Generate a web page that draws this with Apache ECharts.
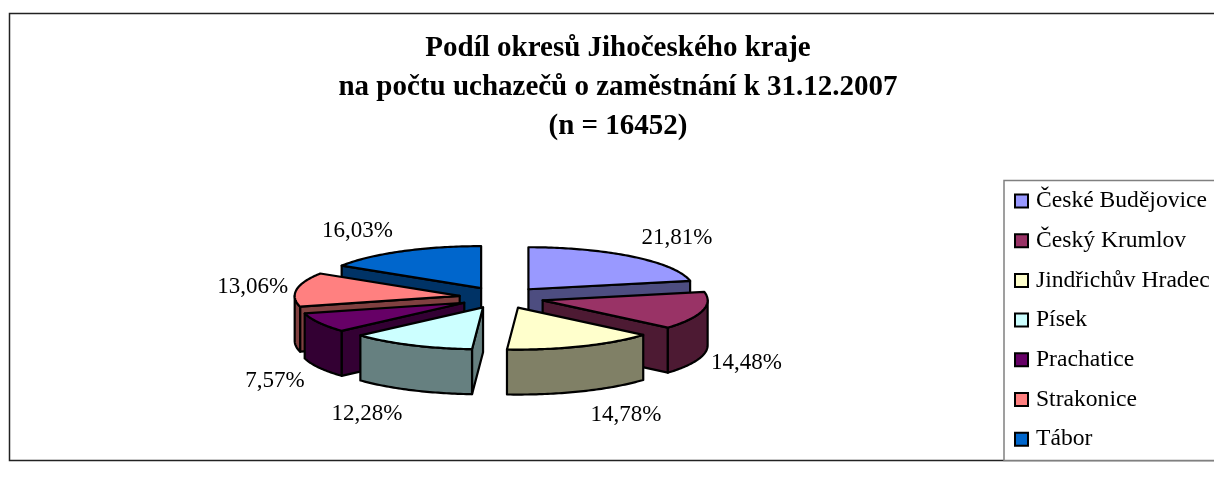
<!DOCTYPE html>
<html>
<head>
<meta charset="utf-8">
<style>html,body{margin:0;padding:0;background:#fff;overflow:hidden}#c{width:1214px;height:487px}</style>
<script src="https://cdn.jsdelivr.net/npm/echarts@6/dist/echarts.min.js"></script>
</head>
<body>
<div id="c"></div>
<script>
const districts = ['České Budějovice','Český Krumlov','Jindřichův Hradec','Písek','Prachatice','Strakonice','Tábor'];
const shares = [21.81,14.48,14.78,12.28,7.57,13.06,16.03];
const colors = ['#9999FF','#993366','#FFFFCC','#CCFFFF','#660066','#FF8080','#0066CC'];
const titleLines = ['Podíl okresů Jihočeského kraje','na počtu uchazečů o zaměstnání k 31.12.2007','(n = 16452)'];

const FONT = '"Liberation Serif","Times New Roman",serif';
const CX = 501.6, CY = 297.6, RX = 165, RY = 42, DEPTH = 45, EX = 42.4, EY = 10.8;
const total = shares.reduce((a,b)=>a+b,0);
const rad = d => d*Math.PI/180;
function darker(hex){
  const n = parseInt(hex.slice(1),16);
  const f = v => Math.round(v/2).toString(16).padStart(2,'0');
  return '#'+f(n>>16&255)+f(n>>8&255)+f(n&255);
}
const line = {stroke:'#000', lineWidth:2.2, lineJoin:'round'};
function renderSlice(idx, params, api){
  const i = params.seriesIndex;
  const val = api.value(0);
  let acc = 0; for(let k=0;k<i;k++) acc += shares[k];
  const a0 = acc/total*360, a1 = (acc+val)/total*360, mid = (a0+a1)/2;
  const ax = CX + EX*Math.sin(rad(mid)), ay = CY - EY*Math.cos(rad(mid));
  const pt = t => [ax+RX*Math.sin(rad(t)), ay-RY*Math.cos(rad(t))];
  const down = p => [p[0], p[1]+DEPTH];
  const base = Math.round(200 - 100*Math.cos(rad(mid)));
  const wall = darker(colors[i]);
  const children = [];
  const poly = (points, fill, z) => children.push({type:'polygon', z2:base*10+z, shape:{points}, style:Object.assign({fill}, line), silent:true});
  if(Math.sin(rad(a1))>0){ const p=pt(a1); poly([[ax,ay],p,down(p),[ax,ay+DEPTH]], wall, 0); }
  if(Math.sin(rad(a0))<0){ const p=pt(a0); poly([[ax,ay],p,down(p),[ax,ay+DEPTH]], wall, 0); }
  const w0 = Math.max(a0,90), w1 = Math.min(a1,270);
  if(w1>w0){
    const top=[]; for(let t=w0;t<w1;t+=1) top.push(pt(t)); top.push(pt(w1));
    poly(top.concat(top.slice().reverse().map(down)), wall, 1);
  }
  const face=[[ax,ay]]; for(let t=a0;t<a1;t+=1) face.push(pt(t)); face.push(pt(a1));
  poly(face, colors[i], 2);
  const o = pt(mid), s = Math.sin(rad(mid)), c = Math.cos(rad(mid));
  children.push({type:'text', z2:99999, silent:true, style:{
    text: val.toFixed(2).replace('.',',')+'%',
    x: o[0]+(s>0?44:-44), y: o[1]-25*c+(c<0?DEPTH:0)+1,
    fill:'#000', font:'23px '+FONT, align:'center', verticalAlign:'middle'}});
  return {type:'group', children};
}
const chart = echarts.init(document.getElementById('c'), null, {renderer:'canvas'});
chart.setOption({
  animation:false,
  backgroundColor:'#fff',
  title:{text:titleLines.join('\n'), left:613, top:24, textAlign:'center',
    textStyle:{fontFamily:FONT, fontWeight:'bold', fontSize:29, lineHeight:39, color:'#000'}},
  legend:{orient:'vertical', left:1004, top:180.5, icon:'rect', itemWidth:13, itemHeight:13, itemGap:15.7,
    padding:[8.5,12,9.3,10], borderColor:'#808080', borderWidth:1.5, backgroundColor:'#fff',
    data:districts, selectedMode:false,
    textStyle:{fontFamily:FONT, fontSize:23.6, color:'#000', padding:[0,0,0,3]}},
  graphic:[{type:'rect', silent:true, z:-1, shape:{x:9.5,y:13.5,width:1230,height:447}, style:{fill:'none',stroke:'#222',lineWidth:1.5}}],
  series:districts.map((name,i)=>({
    type:'custom', name, coordinateSystem:'none', silent:true,
    itemStyle:{color:colors[i], borderColor:'#000', borderWidth:1.5},
    data:[[shares[i]]], renderItem:(p,a)=>renderSlice(i,p,a)
  }))
});
</script>
</body>
</html>
